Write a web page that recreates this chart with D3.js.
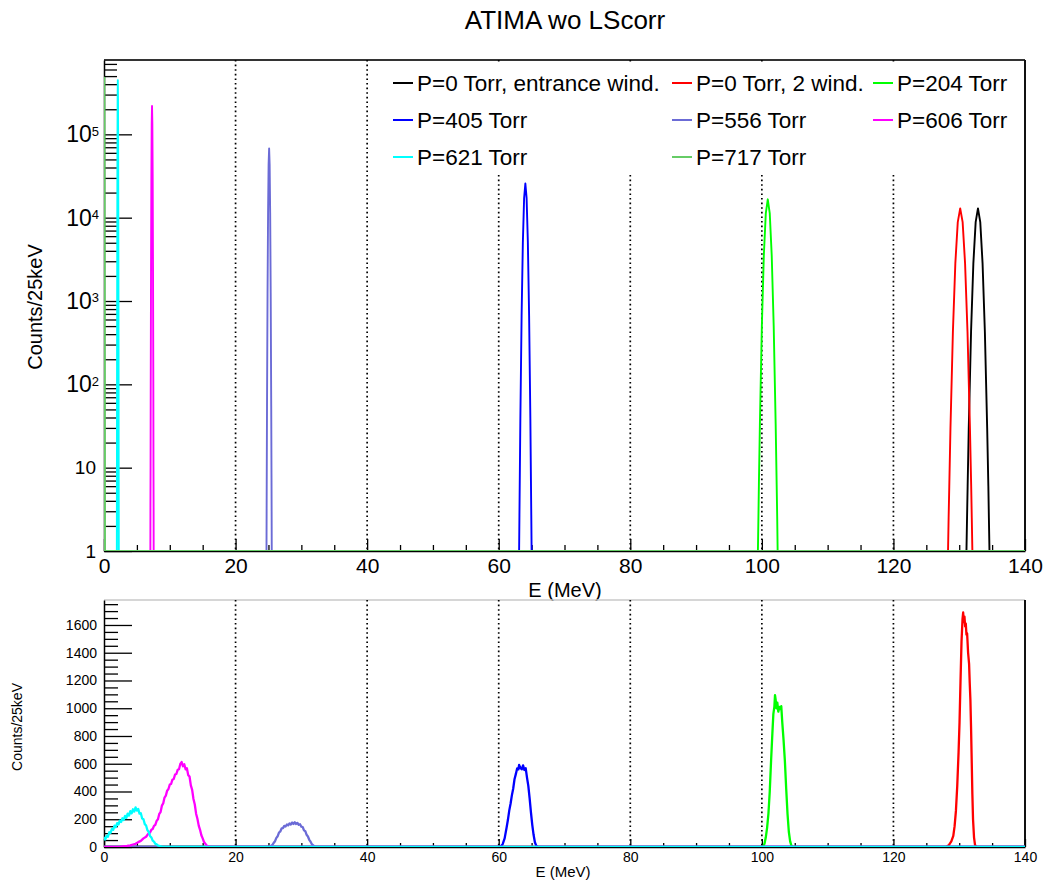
<!DOCTYPE html>
<html>
<head>
<meta charset="utf-8">
<title>ATIMA wo LScorr</title>
<script src="https://d3js.org/d3.v7.min.js"></script>
<style>
  body { margin: 0; background: #fff; }
  svg text { font-family: "Liberation Sans", Arial, Helvetica, sans-serif; fill: #000; }
  .axis path.domain { stroke: #000; stroke-width: 1.5; }
  .axis line { stroke: #000; stroke-width: 1.3; }
  .grid { stroke: #000; stroke-width: 1.7; stroke-dasharray: 1.6 3; }
</style>
</head>
<body>
<svg id="chart" width="1046" height="884"></svg>
<script>
// ---- data ----
var seriesNames = ["P=0 Torr, entrance wind.", "P=0 Torr, 2 wind.", "P=204 Torr",
                   "P=405 Torr", "P=556 Torr", "P=606 Torr", "P=621 Torr", "P=717 Torr"];
var seriesColors = ["#000000", "#ff0000", "#00ff00", "#0000ff", "#6b6bd6", "#ff00ff", "#00ffff", "#66cc66"];

var majorE = [0, 20, 40, 60, 80, 100, 120, 140];
var gridE = [20, 40, 60, 80, 100, 120];
var logMajor = [1, 10, 100, 1000, 10000, 100000];
var linMajor = [0, 200, 400, 600, 800, 1000, 1200, 1400, 1600];

// upper pad (log scale), [E (MeV), counts/25keV]
var topBlack = [[0,0],[131.1,1],[131.19,2.5],[131.28,6],[131.45,30],[131.8,427],[132.15,2830],[132.5,8830],[132.85,12900],[133.2,8830],[133.55,2830],[133.9,427],[134.25,30],[134.43,6],[134.51,2.5],[134.6,1],[140,0]];
var topRed = [[0,0],[128.3,1],[128.39,2.5],[128.49,6],[128.67,30],[129.04,427],[129.41,2830],[129.78,8830],[130.15,12900],[130.52,8830],[130.89,2830],[131.26,427],[131.63,30],[131.82,6],[131.91,2.5],[132.0,1],[140,0]];
var topP204 = [[0,0],[99.4,1],[99.48,2.6],[99.55,6.3],[99.7,33],[100.0,502],[100.3,3510],[100.6,11250],[100.9,16600],[101.2,11250],[101.5,3510],[101.8,502],[102.1,33],[102.25,6.3],[102.33,2.6],[102.4,1],[140,0]];
var topP405 = [[0,0],[63.1,1],[63.15,2.7],[63.2,6.9],[63.29,38.7],[63.48,664],[63.67,5060],[63.86,17140],[64.05,25700],[64.24,17140],[64.43,5060],[64.62,664],[64.81,38.7],[64.9,6.9],[64.95,2.7],[65.0,1],[140,0]];
var topP556 = [[0,0],[24.7,1],[24.72,3],[24.74,8.3],[24.78,54.8],[24.86,1233],[24.94,11400],[25.02,43350],[25.1,67600],[25.18,43350],[25.26,11400],[25.34,1233],[25.42,54.8],[25.46,8.3],[25.48,3],[25.5,1],[140,0]];
var topP606 = [[0,0],[7.05,1],[7.06,3.3],[7.08,10.3],[7.1,83.6],[7.15,2620],[7.2,30600],[7.25,133700],[7.3,219000],[7.35,133700],[7.4,30600],[7.45,2620],[7.5,83.6],[7.52,10.3],[7.54,3.3],[7.55,1],[140,0]];
var topP621 = [[0,0],[1.95,1],[1.96,3.6],[1.97,11.9],[1.98,108],[2.01,4130],[2.04,55700],[2.07,265500],[2.1,447000],[2.13,265500],[2.16,55700],[2.19,4130],[2.22,108],[2.23,11.9],[2.24,3.6],[2.25,1],[140,0]];
var topP717 = [[-0.05,1],[-0.04,12],[-0.03,111],[-0.01,4320],[0.01,59000],[0.03,283800],[0.05,478600],[0.07,283800],[0.09,59000],[0.11,4320],[0.13,111],[0.14,12],[0.15,1],[140,0]];

// lower pad (linear scale)
var botRed = [[0,0],[128.0,0],[128.4,12],[128.8,40],[129.1,80],[129.3,150],[129.5,260],[129.7,440],[129.9,680],[130.05,900],[130.2,1200],[130.35,1480],[130.5,1640],[130.6,1690],[130.7,1620],[130.8,1660],[130.9,1590],[131.0,1610],[131.1,1530],[131.2,1540],[131.35,1400],[131.5,1320],[131.6,1180],[131.7,1060],[131.8,860],[131.9,620],[132.0,380],[132.1,200],[132.25,70],[132.4,16],[132.6,0],[140,0]];
var botP204 = [[0,0],[100.0,0],[100.2,6],[100.4,24],[100.6,70],[100.8,140],[101.0,240],[101.2,400],[101.4,620],[101.6,820],[101.75,960],[101.9,1010],[102.0,1095],[102.1,1060],[102.2,1000],[102.35,1040],[102.5,975],[102.65,1010],[102.8,995],[102.95,1015],[103.1,900],[103.3,770],[103.5,620],[103.7,420],[103.9,240],[104.1,110],[104.3,40],[104.5,8],[104.7,0],[140,0]];
var botP405 = [[0,0],[60.0,0],[60.3,4],[60.6,20],[60.9,62],[61.2,140],[61.4,196],[61.6,262],[61.8,312],[62.0,372],[62.2,420],[62.4,488],[62.6,525],[62.8,566],[63.0,560],[63.1,592],[63.3,570],[63.5,560],[63.7,588],[63.9,555],[64.1,568],[64.3,500],[64.5,440],[64.7,350],[64.9,250],[65.1,160],[65.3,88],[65.5,34],[65.7,10],[65.9,2],[66.1,0],[140,0]];
var botP556 = [[0,0],[25.0,0],[25.2,3],[25.4,8],[25.6,15],[25.8,30],[26.0,42],[26.2,66],[26.4,78],[26.6,104],[26.8,112],[27.0,134],[27.2,136],[27.4,152],[27.6,148],[27.8,162],[28.0,156],[28.2,170],[28.4,162],[28.6,176],[28.8,166],[29.0,178],[29.2,166],[29.4,174],[29.6,160],[29.8,164],[30.0,146],[30.2,144],[30.4,120],[30.6,114],[30.8,88],[31.0,76],[31.2,52],[31.4,38],[31.6,20],[31.8,12],[32.0,4],[32.2,0],[140,0]];
var botP606 = [[0,0],[1.5,0],[2.5,3],[3.5,8],[4.0,12],[4.4,18],[4.8,23],[5.2,35],[5.6,44],[6.0,62],[6.4,74],[6.8,100],[7.0,104],[7.2,124],[7.4,130],[7.6,152],[7.8,160],[8.0,188],[8.2,200],[8.4,238],[8.6,252],[8.8,298],[9.0,314],[9.2,356],[9.4,370],[9.6,406],[9.8,418],[10.0,450],[10.2,454],[10.4,485],[10.6,490],[10.8,522],[11.0,526],[11.2,556],[11.4,560],[11.6,598],[11.8,612],[12.0,582],[12.2,596],[12.4,560],[12.6,568],[12.8,518],[13.0,508],[13.2,444],[13.4,412],[13.6,346],[13.8,306],[14.0,240],[14.2,204],[14.4,154],[14.6,124],[14.8,85],[15.0,62],[15.2,36],[15.4,24],[15.6,10],[15.8,6],[16.0,2],[16.2,0],[140,0]];
var botP621 = [[0,48],[0.1,66],[0.2,55],[0.4,80],[0.6,74],[0.8,106],[1.0,102],[1.2,130],[1.4,124],[1.6,154],[1.8,143],[2.0,172],[2.2,162],[2.4,190],[2.6,180],[2.8,207],[3.0,195],[3.2,224],[3.4,210],[3.6,240],[3.8,226],[4.0,258],[4.2,243],[4.4,272],[4.6,255],[4.8,286],[5.0,262],[5.2,275],[5.4,240],[5.6,243],[5.8,205],[6.0,200],[6.2,165],[6.4,155],[6.6,121],[6.8,110],[7.0,80],[7.2,69],[7.4,46],[7.6,39],[7.8,23],[8.0,19],[8.2,11],[8.4,8],[8.6,4],[8.8,3],[9.0,1],[9.2,0],[140,0]];

// draw order (last one on top)
var topSeries = [topBlack, topRed, topP204, topP405, topP556, topP606, topP621, topP717];
var botSeries = [null, botRed, botP204, botP405, botP556, botP606, botP621, null];

// ---- layout ----
var svg = d3.select("#chart");
var left = 104, right = 1025;
var topPad = {top: 60, bottom: 551};
var botPad = {top: 600, bottom: 847};

var x = d3.scaleLinear().domain([0, 140]).range([left, right]);
var yLog = d3.scaleLog().domain([1, 7.8e5]).range([topPad.bottom, topPad.top]).clamp(true);
var yLin = d3.scaleLinear().domain([0, 1780]).range([botPad.bottom, botPad.top]);

// title
svg.append("text")
    .attr("x", 565).attr("y", 29)
    .attr("text-anchor", "middle")
    .style("font-size", "26px")
    .text("ATIMA wo LScorr");

// clip paths
var defs = svg.append("defs");
defs.append("clipPath").attr("id", "clipTop").append("rect")
    .attr("x", left).attr("y", topPad.top).attr("width", right - left).attr("height", topPad.bottom - topPad.top);
defs.append("clipPath").attr("id", "clipBot").append("rect")
    .attr("x", left).attr("y", botPad.top).attr("width", right - left).attr("height", botPad.bottom - botPad.top);

// ===== upper pad =====
// frame: top and right
svg.append("line").attr("x1", left).attr("x2", right).attr("y1", topPad.top).attr("y2", topPad.top)
    .attr("stroke", "#333").attr("stroke-width", 2);
svg.append("line").attr("x1", right).attr("x2", right).attr("y1", topPad.top).attr("y2", topPad.bottom)
    .attr("stroke", "#111").attr("stroke-width", 2);

// dotted grid lines
svg.append("g").selectAll("line").data(gridE).enter().append("line")
    .attr("class", "grid")
    .attr("x1", d => x(d)).attr("x2", d => x(d))
    .attr("y1", topPad.top).attr("y2", topPad.bottom);

// x axis, minor + major
var minorE = d3.range(0, 141, 5).filter(d => d % 20 != 0);
svg.append("g").attr("class", "axis")
    .attr("transform", "translate(0," + topPad.bottom + ")")
    .call(d3.axisBottom(x).tickValues(minorE).tickSizeInner(-6).tickSizeOuter(0).tickFormat(""))
    .select(".domain").remove();
var xTop = svg.append("g").attr("class", "axis")
    .attr("transform", "translate(0," + topPad.bottom + ")")
    .call(d3.axisBottom(x).tickValues(majorE).tickSizeInner(-12).tickSizeOuter(0).tickPadding(7).tickFormat(d3.format("d")));
xTop.selectAll("text").style("font-size", "21px");

svg.append("text")
    .attr("x", 565).attr("y", 597)
    .attr("text-anchor", "middle")
    .style("font-size", "20px")
    .text("E (MeV)");

// y axis (log)
var logMinor = [];
logMajor.forEach(function(d) {
  for (var k = 2; k <= 9; k++) if (d * k < 7.8e5) logMinor.push(d * k);
});
svg.append("g").attr("class", "axis")
    .attr("transform", "translate(" + left + ",0)")
    .call(d3.axisLeft(yLog).tickValues(logMinor).tickSizeInner(-13).tickSizeOuter(0).tickFormat(""))
    .select(".domain").remove();
var yTop = svg.append("g").attr("class", "axis")
    .attr("transform", "translate(" + left + ",0)")
    .call(d3.axisLeft(yLog).tickValues(logMajor).tickSizeInner(-28).tickSizeOuter(0).tickPadding(8).tickFormat(""));
yTop.selectAll(".tick text").each(function(d) {
  var t = d3.select(this);
  var e = Math.round(Math.log10(d));
  if (e < 2) {
    t.style("font-size", "19px").text(d);
  } else {
    t.attr("x", -5).style("font-size", "23px").text("10");
    t.append("tspan").attr("dy", "-0.5em").style("font-size", "13px").text(e);
  }
});

svg.append("text")
    .attr("transform", "translate(42,307) rotate(-90)")
    .attr("text-anchor", "middle")
    .style("font-size", "20px")
    .text("Counts/25keV");

// histograms (log)
var lineTop = d3.line()
    .x(d => x(d[0]))
    .y(d => yLog(Math.max(d[1], 1)));
svg.append("g").attr("clip-path", "url(#clipTop)")
  .selectAll("path").data(topSeries).enter().append("path")
    .attr("d", lineTop)
    .attr("fill", "none")
    .attr("stroke", (d, i) => seriesColors[i])
    .attr("stroke-width", 1.9)
    .attr("stroke-linejoin", "round");

// legend
var legendG = svg.append("g");
legendG.append("rect")
    .attr("x", 385).attr("y", 63).attr("width", 637).attr("height", 111)
    .attr("fill", "#fff");
var colX = [393, 672, 873];
var rowY = [83, 120, 157];
seriesNames.forEach(function(name, i) {
  var cx = colX[i % 3], cy = rowY[Math.floor(i / 3)];
  legendG.append("line")
      .attr("x1", cx).attr("x2", cx + 20).attr("y1", cy).attr("y2", cy)
      .attr("stroke", seriesColors[i]).attr("stroke-width", 2);
  legendG.append("text")
      .attr("x", cx + 24).attr("y", cy + 8)
      .style("font-size", "22.5px")
      .text(name);
});

// ===== lower pad =====
svg.append("line").attr("x1", left).attr("x2", right).attr("y1", botPad.top).attr("y2", botPad.top)
    .attr("stroke", "#c8c8c8").attr("stroke-width", 1.5);
svg.append("line").attr("x1", right).attr("x2", right).attr("y1", botPad.top).attr("y2", botPad.bottom)
    .attr("stroke", "#111").attr("stroke-width", 2);

svg.append("g").selectAll("line").data(gridE).enter().append("line")
    .attr("class", "grid")
    .attr("x1", d => x(d)).attr("x2", d => x(d))
    .attr("y1", botPad.top).attr("y2", botPad.bottom);

svg.append("g").attr("class", "axis")
    .attr("transform", "translate(0," + botPad.bottom + ")")
    .call(d3.axisBottom(x).tickValues(minorE).tickSizeInner(-4).tickSizeOuter(0).tickFormat(""))
    .select(".domain").remove();
var xBot = svg.append("g").attr("class", "axis")
    .attr("transform", "translate(0," + botPad.bottom + ")")
    .call(d3.axisBottom(x).tickValues(majorE).tickSizeInner(-8).tickSizeOuter(0).tickPadding(5).tickFormat(d3.format("d")));
xBot.selectAll("text").style("font-size", "14px");

svg.append("text")
    .attr("x", 563).attr("y", 877)
    .attr("text-anchor", "middle")
    .style("font-size", "15px")
    .text("E (MeV)");

var linMinor = d3.range(0, 1780, 50).filter(d => d % 200 != 0);
svg.append("g").attr("class", "axis")
    .attr("transform", "translate(" + left + ",0)")
    .call(d3.axisLeft(yLin).tickValues(linMinor).tickSizeInner(-14).tickSizeOuter(0).tickFormat(""))
    .select(".domain").remove();
var yBot = svg.append("g").attr("class", "axis")
    .attr("transform", "translate(" + left + ",0)")
    .call(d3.axisLeft(yLin).tickValues(linMajor).tickSizeInner(-28).tickSizeOuter(0).tickPadding(7).tickFormat(d3.format("d")));
yBot.selectAll("text").style("font-size", "14px");

svg.append("text")
    .attr("transform", "translate(22,727) rotate(-90)")
    .attr("text-anchor", "middle")
    .style("font-size", "14px")
    .text("Counts/25keV");

var lineBot = d3.line()
    .x(d => x(d[0]))
    .y(d => yLin(d[1]));
svg.append("g").attr("clip-path", "url(#clipBot)")
  .selectAll("path").data(botSeries.map((s, i) => ({s: s, i: i})).filter(o => o.s)).enter().append("path")
    .attr("d", o => lineBot(o.s))
    .attr("fill", "none")
    .attr("stroke", o => seriesColors[o.i])
    .attr("stroke-width", 2.3)
    .attr("stroke-linejoin", "round");
</script>
</body>
</html>
